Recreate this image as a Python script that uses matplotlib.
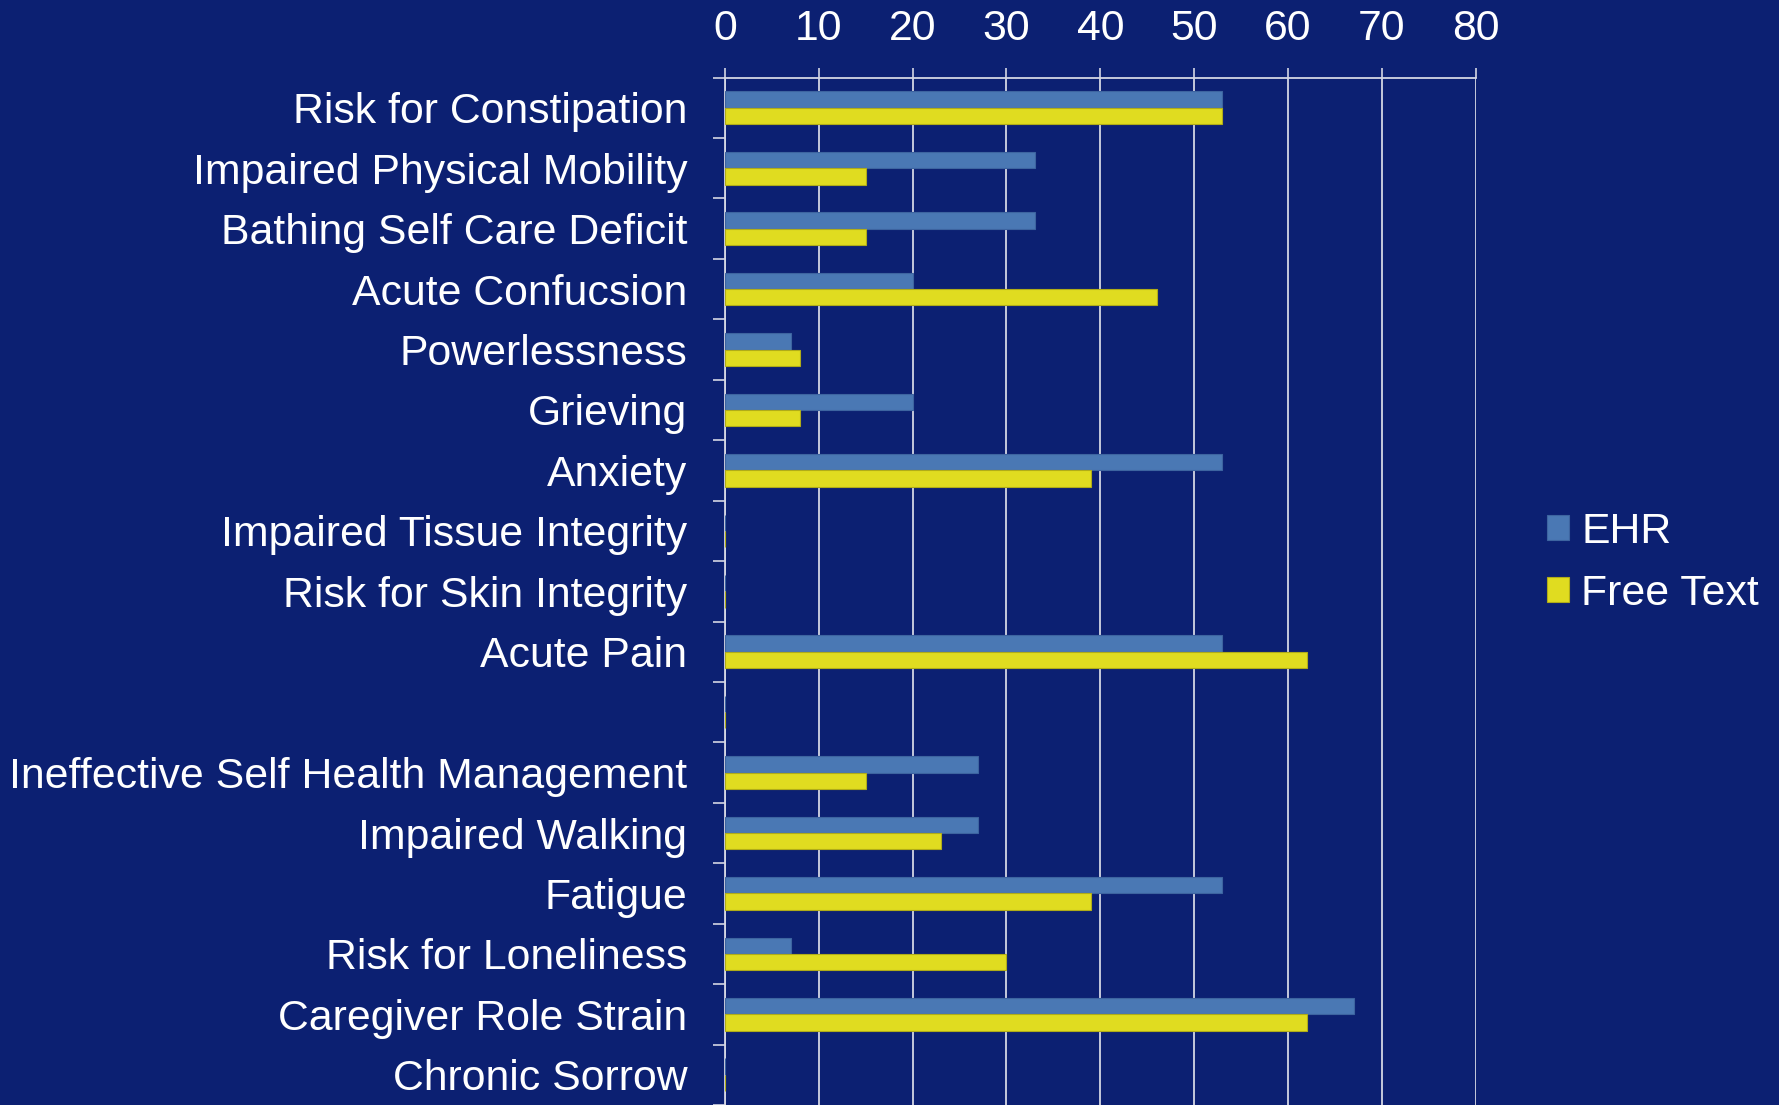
import numpy as np
import matplotlib
matplotlib.use('Agg')
import matplotlib.pyplot as plt
from matplotlib.ticker import FixedLocator

# Datos
categories = [
    'Risk for Constipation', 'Impaired Physical Mobility', 'Bathing Self Care Deficit',
    'Acute Confucsion', 'Powerlessness', 'Grieving', 'Anxiety',
    'Impaired Tissue Integrity', 'Risk for Skin Integrity', 'Acute Pain', '',
    'Ineffective Self Health Management', 'Impaired Walking', 'Fatigue',
    'Risk for Loneliness', 'Caregiver Role Strain', 'Chronic Sorrow'
]
ehr = [53, 33, 33, 20, 7, 20, 53, 0, 0, 53, 0, 27, 27, 53, 7, 67, 0]
free_text = [53, 15, 15, 46, 8, 8, 39, 0, 0, 62, 0, 15, 23, 39, 30, 62, 0]
series_names = ['EHR', 'Free Text']
x_ticks = [0, 10, 20, 30, 40, 50, 60, 70, 80]

# Estilo
BG = '#0C2072'
EHR_COLOR = '#4A78B4'
FREE_COLOR = '#E0DC20'
LINE_COLOR = '#D4D6E4'
FS = 30.8
plt.rcParams['font.family'] = ['Liberation Sans', 'DejaVu Sans']

fig = plt.figure(figsize=(17.79, 11.05), dpi=100, facecolor=BG)
ax = fig.add_axes([0.4075, 0.0, 0.422, 0.9298])
ax.set_facecolor(BG)

y = np.arange(len(categories))
h = 0.27
ax.barh(y - h / 2, ehr, height=h, color=EHR_COLOR, edgecolor='#3D64A0',
        linewidth=0.8, label=series_names[0], zorder=3)
ax.barh(y + h / 2, free_text, height=h, color=FREE_COLOR, edgecolor='#B0AC18',
        linewidth=0.8, label=series_names[1], zorder=3)

ax.set_xlim(0, 80)
ax.set_ylim(len(categories) - 0.5, -0.5)
ax.xaxis.tick_top()
ax.set_xticks(x_ticks)
ax.tick_params(axis='x', colors=LINE_COLOR, labelcolor='white', labelsize=FS,
               length=7, width=1.2, pad=13.5, direction='out')
ax.grid(axis='x', color=LINE_COLOR, linewidth=1.3, zorder=0)

ax.set_yticks(y)
ax.set_yticklabels(categories)
ax.yaxis.set_minor_locator(FixedLocator(np.arange(-0.5, len(categories), 1.0)))
ax.tick_params(axis='y', which='major', length=0, labelcolor='white',
               labelsize=FS, pad=27)
ax.tick_params(axis='y', which='minor', length=9, width=1.2, color=LINE_COLOR,
               direction='out')

for side in ['right', 'bottom']:
    ax.spines[side].set_visible(False)
for side in ['left', 'top']:
    ax.spines[side].set_color(LINE_COLOR)
    ax.spines[side].set_linewidth(1.3)

handles, labels = ax.get_legend_handles_labels()
leg = fig.legend(handles, labels, loc='center left',
                 bbox_to_anchor=(1547 / 1779, 1 - 563 / 1105),
                 frameon=False, fontsize=FS, handlelength=0.52,
                 handleheight=0.52, handletextpad=0.28, labelspacing=0.52,
                 borderpad=0, borderaxespad=0)
for t in leg.get_texts():
    t.set_color('white')

fig.savefig('out.png', dpi=100, facecolor=BG)
